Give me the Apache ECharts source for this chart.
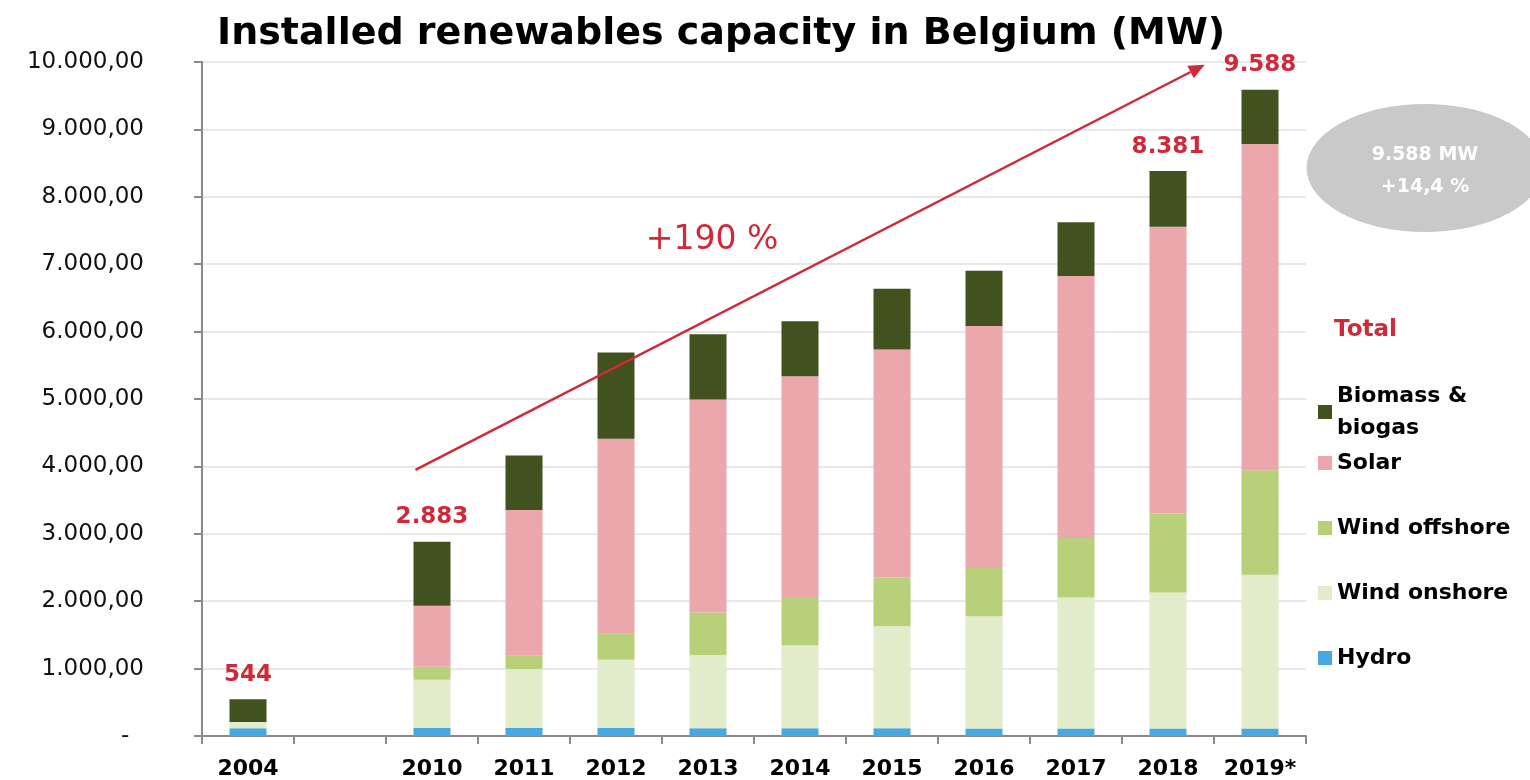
<!DOCTYPE html>
<html>
<head>
<meta charset="utf-8">
<title>Installed renewables capacity in Belgium (MW)</title>
<script src="https://cdn.jsdelivr.net/npm/echarts@6/dist/echarts.min.js"></script>
<style>
    html, body { margin: 0; padding: 0; background: #fff; }
    #main { width: 1530px; height: 780px; }
</style>
</head>
<body>
<div id="main"></div>
<script>
// categories (empty slot between 2004 and 2010 is part of the original layout)
const years = ['2004', '', '2010', '2011', '2012', '2013', '2014', '2015', '2016', '2017', '2018', '2019*'];

// MW per technology
const hydro        = [115, null, 118, 118, 118, 114, 114, 114, 112, 112, 112, 112];
const windOnshore  = [92, null, 716, 875, 1013, 1086, 1234, 1516, 1663, 1943, 2016, 2280];
const windOffshore = [0, null, 195, 197, 385, 632, 716, 721, 716, 882, 1172, 1552];
const solar        = [0, null, 903, 2163, 2894, 3161, 3274, 3382, 3591, 3887, 4256, 4841];
const biomass      = [337, null, 951, 810, 1279, 967, 815, 904, 820, 799, 825, 803];

// totals printed above some bars
const totalLabels = ['544', '', '2.883', '', '', '', '', '', '', '', '8.381', '9.588'];

const yTicks = { min: 0, max: 10000, interval: 1000 };

const arrowFrom = 3950;  // MW level where the growth arrow starts (at 2010)
const arrowTo = 9960;    // MW level where it ends (near 2019)

const RED = '#cf2a3a';
const FONT = 'DejaVu Sans';

function fmtAxis(v) {
    if (v === 0) return '-  ';
    const s = String(Math.round(v)).replace(/\B(?=(\d{3})+(?!\d))/g, '.');
    return s + ',00';
}

function barSeries(name, data, color, extra) {
    return Object.assign({
        name: name,
        type: 'bar',
        stack: 'total',
        barWidth: 37,
        data: data,
        itemStyle: { color: color },
        emphasis: { disabled: true }
    }, extra || {});
}

const chart = echarts.init(document.getElementById('main'));

const option = {
    animation: false,
    textStyle: { fontFamily: FONT },
    title: {
        text: 'Installed renewables capacity in Belgium (MW)',
        left: 212,
        top: 10,
        textStyle: { fontFamily: FONT, fontSize: 38, fontWeight: 'bold', color: '#000' }
    },
    grid: { left: 202, right: 224, top: 62, bottom: 43 },
    legend: [
        {
            orient: 'vertical',
            left: 1313,
            top: 359,
            itemWidth: 14,
            itemHeight: 14,
            icon: 'rect',
            data: ['Biomass & biogas'],
            formatter: () => 'Biomass &\nbiogas',
            textStyle: {
                fontFamily: FONT, fontSize: 22, fontWeight: 'bold', color: '#000',
                lineHeight: 32, padding: [32, 0, 0, 0]
            }
        },
        {
            orient: 'vertical',
            left: 1313,
            top: 445,
            itemWidth: 14,
            itemHeight: 14,
            itemGap: 39,
            icon: 'rect',
            data: ['Solar', 'Wind offshore', 'Wind onshore', 'Hydro'],
            textStyle: { fontFamily: FONT, fontSize: 22, fontWeight: 'bold', color: '#000', lineHeight: 26 }
        }
    ],
    xAxis: {
        type: 'category',
        data: years,
        axisLine: { lineStyle: { color: '#8a8a8a', width: 2 } },
        axisTick: { show: true, interval: 0, length: 8, lineStyle: { color: '#8a8a8a', width: 2 } },
        axisLabel: { interval: 0, margin: 22, fontFamily: FONT, fontSize: 22, fontWeight: 'bold', color: '#000' }
    },
    yAxis: {
        type: 'value',
        min: yTicks.min,
        max: yTicks.max,
        interval: yTicks.interval,
        axisLine: { show: true, lineStyle: { color: '#8a8a8a', width: 2 } },
        axisTick: { show: true, length: 8, lineStyle: { color: '#8a8a8a', width: 2 } },
        splitLine: { lineStyle: { color: '#e8e8e8', width: 2 } },
        axisLabel: { margin: 58, fontFamily: FONT, fontSize: 23, color: '#111', formatter: fmtAxis }
    },
    series: [
        barSeries('Hydro', hydro, '#47a8e2'),
        barSeries('Wind onshore', windOnshore, '#e2ecca'),
        barSeries('Wind offshore', windOffshore, '#b9d07a'),
        barSeries('Solar', solar, '#eba7ab'),
        barSeries('Biomass & biogas', biomass, '#42521e', {
            label: {
                show: true,
                position: 'top',
                distance: 13,
                formatter: p => totalLabels[p.dataIndex],
                fontFamily: FONT,
                fontSize: 23,
                fontWeight: 'bold',
                color: RED
            }
        })
    ]
};

chart.setOption(option);

// growth arrow, placed through the axes
const band = chart.convertToPixel({ xAxisIndex: 0 }, '2011') - chart.convertToPixel({ xAxisIndex: 0 }, '2010');
const p0 = chart.convertToPixel({ gridIndex: 0 }, ['2010', arrowFrom]);
const p1 = chart.convertToPixel({ gridIndex: 0 }, ['2018', arrowTo]);
p0[0] -= 0.18 * band;
p1[0] += 0.4 * band;
const ang = Math.atan2(p1[1] - p0[1], p1[0] - p0[0]);
const headLen = 16, headW = 7;
const tip = [p1[0], p1[1]];
const base = [tip[0] - headLen * Math.cos(ang), tip[1] - headLen * Math.sin(ang)];
const head = [
    tip,
    [base[0] + headW * Math.sin(ang), base[1] - headW * Math.cos(ang)],
    [base[0] - headW * Math.sin(ang), base[1] + headW * Math.cos(ang)]
];

chart.setOption({
    graphic: [
        {
            type: 'line',
            shape: { x1: p0[0], y1: p0[1], x2: base[0], y2: base[1] },
            style: { stroke: RED, lineWidth: 2.5 },
            z: 100
        },
        {
            type: 'polygon',
            shape: { points: head },
            style: { fill: RED },
            z: 100
        },
        {
            type: 'text',
            x: 712,
            y: 240,
            style: { text: '+190 %', fill: RED, font: '33px "' + FONT + '"', align: 'center', verticalAlign: 'middle' },
            z: 100
        },
        {
            type: 'circle',
            x: 1425,
            y: 168,
            scaleX: 1.85,
            shape: { cx: 0, cy: 0, r: 64 },
            style: { fill: '#c9c9c9' },
            z: 100
        },
        {
            type: 'text',
            x: 1425,
            y: 155,
            style: { text: '9.588 MW', fill: '#fff', font: 'bold 19px "' + FONT + '"', align: 'center', verticalAlign: 'middle' },
            z: 101
        },
        {
            type: 'text',
            x: 1425,
            y: 187,
            style: { text: '+14,4 %', fill: '#fff', font: 'bold 19px "' + FONT + '"', align: 'center', verticalAlign: 'middle' },
            z: 101
        },
        {
            type: 'text',
            x: 1334,
            y: 330,
            style: { text: 'Total', fill: RED, font: 'bold 23px "' + FONT + '"', align: 'left', verticalAlign: 'middle' },
            z: 100
        }
    ]
});
</script>
</body>
</html>
